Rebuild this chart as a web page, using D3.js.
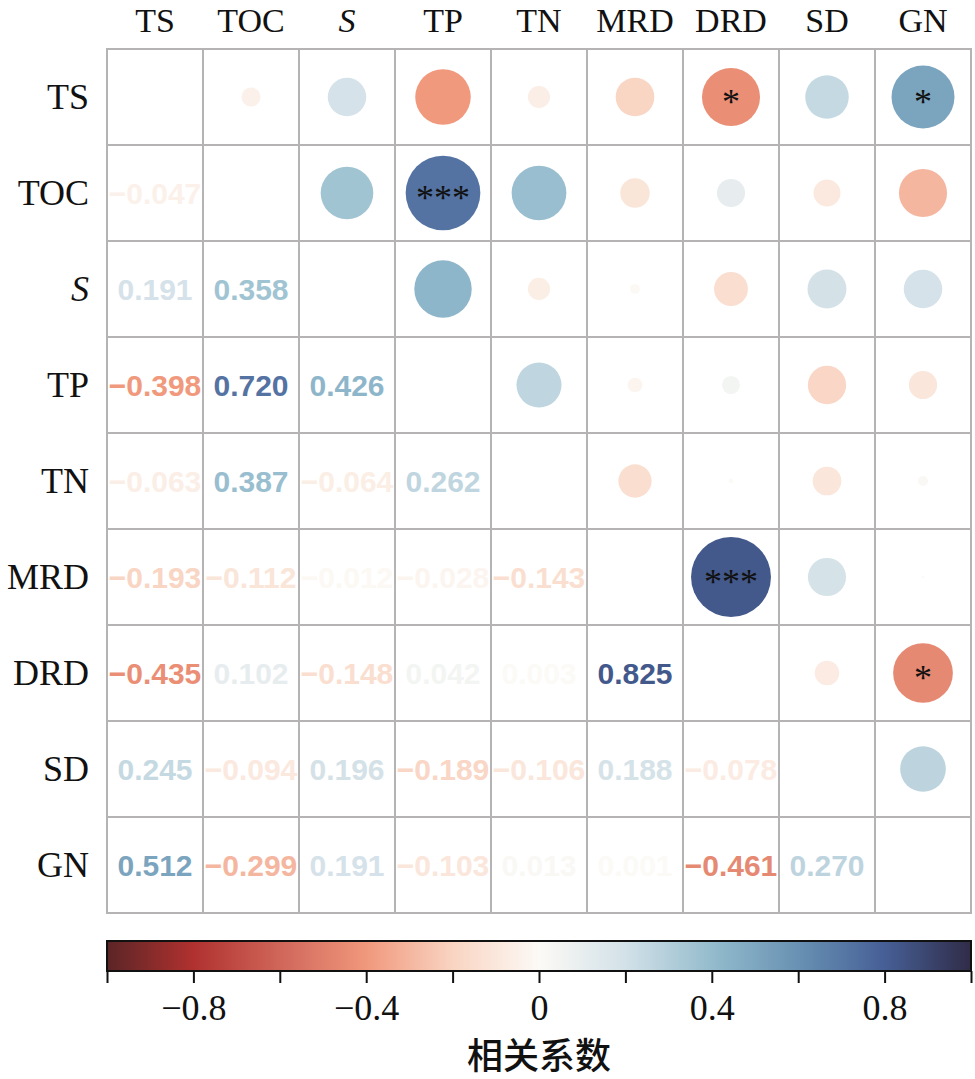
<!DOCTYPE html>
<html>
<head>
<meta charset="utf-8">
<script src="https://cdn.jsdelivr.net/npm/d3@7"></script>
<style>
    body { margin: 0; background: #fff; }
    svg { display: block; }
</style>
</head>
<body>
<svg id="corr-chart"></svg>
<script>

// variables, in row / column order
const vars = ["TS", "TOC", "S", "TP", "TN", "MRD", "DRD", "SD", "GN"];

// lower triangle of the correlation matrix, one row per variable
const corrRows = [
    [],
    [-0.047],
    [0.191, 0.358],
    [-0.398, 0.720, 0.426],
    [-0.063, 0.387, -0.064, 0.262],
    [-0.193, -0.112, -0.012, -0.028, -0.143],
    [-0.435, 0.102, -0.148, 0.042, 0.003, 0.825],
    [0.245, -0.094, 0.196, -0.189, -0.106, 0.188, -0.078],
    [0.512, -0.299, 0.191, -0.103, 0.013, 0.001, -0.461, 0.270]
];

// significance marks, same layout as corrRows
const sigRows = [
    [],
    [""],
    ["", ""],
    ["", "***", ""],
    ["", "", "", ""],
    ["", "", "", "", ""],
    ["*", "", "", "", "", "***"],
    ["", "", "", "", "", "", ""],
    ["*", "", "", "", "", "", "*", ""]
];

const barTicks = [-1, -0.8, -0.6, -0.4, -0.2, 0, 0.2, 0.4, 0.6, 0.8, 1];
const barLabels = [-0.8, -0.4, 0, 0.4, 0.8];
const barTitle = "相关系数";

// palette
const palette = ["#5b2526", "#b0312f", "#d0665a", "#f0987c", "#f9d4c2", "#fcfaf6",
                 "#d3e1e8", "#94bccd", "#6891b3", "#465f96", "#302c47"];

const width = 975, height = 1079;
const grid = { left: 107, top: 49, size: 864 };
const serif = "'Liberation Serif', 'Times New Roman', serif";
const sans = "'Liberation Sans', Arial, sans-serif";

const svg = d3.select("#corr-chart")
    .attr("width", width)
    .attr("height", height);

const x = d3.scaleBand().domain(vars).range([grid.left, grid.left + grid.size]);
const y = d3.scaleBand().domain(vars).range([grid.top, grid.top + grid.size]);
const step = x.bandwidth();

const color = d3.scaleLinear()
    .domain(barTicks)
    .range(palette)
    .interpolate(d3.interpolateRgb)
    .clamp(true);

const radius = d3.scaleSqrt().domain([0, 1]).range([0, 44]);

// full list of cells
let cells = [];
corrRows.forEach((row, i) => {
    row.forEach((r, j) => {
        cells.push({ row: vars[i], col: vars[j], r: r, sig: sigRows[i][j] });
    });
});

// grid
svg.append("g")
    .selectAll("rect")
    .data(d3.cross(vars, vars))
    .join("rect")
    .attr("x", d => x(d[1]))
    .attr("y", d => y(d[0]))
    .attr("width", step)
    .attr("height", step)
    .attr("fill", "none")
    .attr("stroke", "#b5b3b3")
    .attr("stroke-width", 2);

// lower triangle: numbers
svg.append("g")
    .selectAll("text")
    .data(cells)
    .join("text")
    .attr("x", d => x(d.col) + step / 2)
    .attr("y", d => y(d.row) + step / 2 + 11)
    .attr("text-anchor", "middle")
    .attr("font-family", sans)
    .attr("font-weight", "bold")
    .attr("font-size", 30)
    .attr("fill", d => color(d.r))
    .text(d => d3.format(".3f")(d.r));

// upper triangle: circles (mirrored)
svg.append("g")
    .selectAll("circle")
    .data(cells)
    .join("circle")
    .attr("cx", d => x(d.row) + step / 2)
    .attr("cy", d => y(d.col) + step / 2)
    .attr("r", d => radius(Math.abs(d.r)))
    .attr("fill", d => color(d.r));

svg.append("g")
    .selectAll("text")
    .data(cells.filter(d => d.sig !== ""))
    .join("text")
    .attr("x", d => x(d.row) + step / 2)
    .attr("y", d => y(d.col) + step / 2 + 17)
    .attr("text-anchor", "middle")
    .attr("font-family", serif)
    .attr("font-size", 36)
    .attr("fill", "#111")
    .text(d => d.sig);

// column labels
svg.append("g")
    .selectAll("text")
    .data(vars)
    .join("text")
    .attr("x", d => x(d) + step / 2)
    .attr("y", 32)
    .attr("text-anchor", "middle")
    .attr("font-family", serif)
    .attr("font-size", 34)
    .attr("font-style", d => d === "S" ? "italic" : "normal")
    .attr("fill", "#111")
    .text(d => d);

// row labels
svg.append("g")
    .selectAll("text")
    .data(vars)
    .join("text")
    .attr("x", 89)
    .attr("y", d => y(d) + step / 2 + 12)
    .attr("text-anchor", "end")
    .attr("font-family", serif)
    .attr("font-size", 36)
    .attr("font-style", d => d === "S" ? "italic" : "normal")
    .attr("fill", "#111")
    .text(d => d);

// colour bar
const bar = { top: 941, height: 30 };
const barX = d3.scaleLinear().domain([-1, 1]).range([grid.left, grid.left + grid.size]);

const grad = svg.append("defs").append("linearGradient")
    .attr("id", "bar-grad")
    .attr("x1", "0%").attr("x2", "100%");
grad.selectAll("stop")
    .data(d3.range(0, 1.0001, 0.02))
    .join("stop")
    .attr("offset", d => (d * 100) + "%")
    .attr("stop-color", d => color(d * 2 - 1));

svg.append("rect")
    .attr("x", barX(-1))
    .attr("y", bar.top)
    .attr("width", barX(1) - barX(-1))
    .attr("height", bar.height)
    .attr("fill", "url(#bar-grad)")
    .attr("stroke", "#111")
    .attr("stroke-width", 2);

const barAxis = d3.axisBottom(barX)
    .tickValues(barTicks)
    .tickSize(12)
    .tickPadding(13)
    .tickFormat(d => barLabels.includes(d) ? d3.format("~g")(d) : "");

const axisG = svg.append("g")
    .attr("transform", "translate(0," + (bar.top + bar.height) + ")")
    .call(barAxis);
axisG.select(".domain").remove();
axisG.selectAll(".tick line").attr("stroke", "#111").attr("stroke-width", 2);
axisG.selectAll(".tick text")
    .attr("dy", "0.66em")
    .attr("font-family", serif)
    .attr("font-size", 36)
    .attr("fill", "#111");

svg.append("text")
    .attr("x", barX(0))
    .attr("y", 1069)
    .attr("text-anchor", "middle")
    .attr("font-family", "'Noto Sans CJK SC', sans-serif")
    .attr("font-weight", 500)
    .attr("font-size", 36)
    .attr("fill", "#111")
    .text(barTitle);

</script>
</body>
</html>
